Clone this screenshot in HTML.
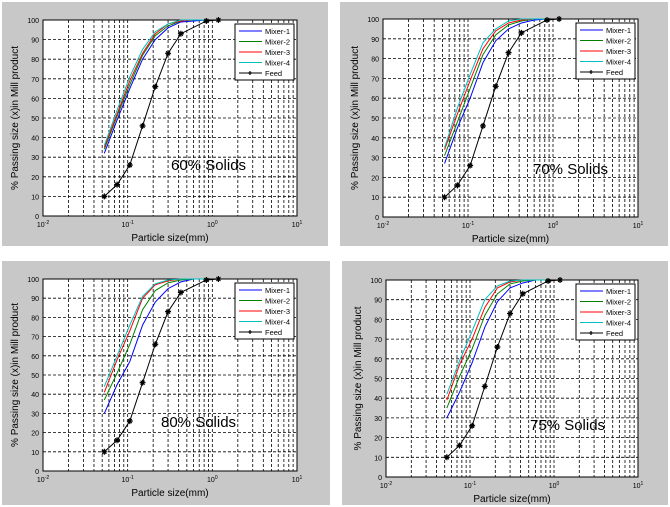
<!DOCTYPE html>
<html><head><meta charset="utf-8"><style>
html,body{margin:0;padding:0;background:#fff;width:670px;height:507px;overflow:hidden}
svg{display:block;font-family:"Liberation Sans",Arial,sans-serif}
</style></head><body>
<svg id="fig" width="670" height="507" viewBox="0 0 670 507"></svg>
<script>
const sizes = [0.053, 0.075, 0.106, 0.15, 0.212, 0.3, 0.425, 0.6, 0.85];
const feedSizes = [0.053, 0.075, 0.106, 0.15, 0.212, 0.3, 0.425, 0.85, 1.18];
const feed = [10, 16, 26, 46, 66, 83, 93, 99.5, 100];
const m60_1 = [32, 49, 65, 80, 90, 96, 99, 99.5, 100];
const m60_2 = [34, 51, 67, 82, 92, 97, 99.5, 100, 100];
const m60_3 = [35, 52, 69, 83, 93, 98, 99.5, 100, 100];
const m60_4 = [36, 54, 71, 85, 94, 98, 100, 100, 100];
const m70_1 = [27, 45, 60, 78, 89, 95, 98, 99.5, 100];
const m70_2 = [31, 48, 65, 82, 92, 97, 99, 100, 100];
const m70_3 = [34, 52, 69, 85, 94, 98, 99.5, 100, 100];
const m70_4 = [35, 55, 72, 88, 95, 99, 100, 100, 100];
const m80_1 = [30, 45, 57, 76, 88, 95, 98.5, 100, 100];
const m80_2 = [37, 51, 66, 84, 94, 98, 99.5, 100, 100];
const m80_3 = [41, 58, 73, 90, 97, 99, 100, 100, 100];
const m80_4 = [44, 60, 76, 91, 97.5, 99.5, 100, 100, 100];
const m75_1 = [30, 43, 58, 76, 89, 96, 98.5, 100, 100];
const m75_2 = [35, 51, 65, 82, 93, 98, 99.5, 100, 100];
const m75_3 = [39, 57, 70, 86, 96, 99, 100, 100, 100];
const m75_4 = [42, 59, 74, 90, 97, 99.5, 100, 100, 100];
const seriesNames = ["Mixer-1", "Mixer-2", "Mixer-3", "Mixer-4", "Feed"];
const solidsLabels = ["60% Solids", "70% Solids", "80% Solids", "75% Solids"];
const yTicks = [0, 10, 20, 30, 40, 50, 60, 70, 80, 90, 100];
const xDecades = [-2, -1, 0, 1];

const colors = ["#0000ff", "#008000", "#ff0000", "#00bfbf"];
const panelData = [[m60_1, m60_2, m60_3, m60_4], [m70_1, m70_2, m70_3, m70_4], [m80_1, m80_2, m80_3, m80_4], [m75_1, m75_2, m75_3, m75_4]];
const layout = [
  {bg:[2,2,326,244], l:43, r:297, t:20, b:216, tx:171, ty:170},
  {bg:[340,2,328,244], l:383, r:638, t:19, b:217, tx:533, ty:174},
  {bg:[2,261,328,244], l:43, r:297, t:279, b:471, tx:161, ty:427},
  {bg:[342,261,326,244], l:386, r:638, t:280, b:477, tx:530, ty:430}
];
const NS = "http://www.w3.org/2000/svg";
const svg = document.getElementById("fig");
function mk(tag, attrs, parent) {
  const e = document.createElementNS(NS, tag);
  for (const k in attrs) e.setAttribute(k, attrs[k]);
  (parent || svg).appendChild(e);
  return e;
}
layout.forEach((L, pi) => {
  const g = mk("g", {});
  
  
  const bg = mk("rect", {x:L.bg[0], y:L.bg[1], width:L.bg[2], height:L.bg[3], fill:"#c8c8c8"}, g);
  
  
  const pr = mk("rect", {x:L.l, y:L.t, width:L.r-L.l, height:L.b-L.t, fill:"#fff"}, g);
  
  
  const xs = v => L.l + (Math.log10(v) + 2) / 3 * (L.r - L.l);
  const ys = v => L.b - v / 100 * (L.b - L.t);
  // grid
  const grid = mk("g", {stroke:"#000", "stroke-width":0.8, "stroke-dasharray":"3,2"}, g);
  
  
  for (let d = -2; d < 1; d++) for (let m = 1; m <= 9; m++) {
    const v = m * Math.pow(10, d);
    if (d === -2 && m === 1) continue;
    const x = xs(v);
    mk("line", {x1:x, x2:x, y1:L.t, y2:L.b}, grid);
  }
  yTicks.forEach(t => { if (t > 0 && t < 100) mk("line", {x1:L.l, x2:L.r, y1:ys(t), y2:ys(t)}, grid); });
  const frame = mk("rect", {x:L.l, y:L.t, width:L.r-L.l, height:L.b-L.t, fill:"none", stroke:"#000", "stroke-width":1}, g);
  
  
  // tick labels
  yTicks.forEach(t => {
    const tx = mk("text", {x:L.l-4, y:ys(t)+3, "font-size":7, "text-anchor":"end", fill:"#000"}, g);
    tx.textContent = t;
    
    
  });
  xDecades.forEach(d => {
    const tx = mk("text", {x:xs(Math.pow(10, d)), y:L.b+11, "font-size":7, "text-anchor":"middle", fill:"#000"}, g);
    tx.textContent = "10";
    const sp = mk("tspan", {dy:-3, "font-size":5}, tx);
    sp.textContent = d;
    
    
  });
  const xl = mk("text", {x:(L.l+L.r)/2, y:L.b+25, "font-size":10, "text-anchor":"middle", fill:"#000"}, g);
  xl.textContent = "Particle size(mm)";
  
  
  const yx = L.l - 25, yy = (L.t + L.b) / 2;
  const yl = mk("text", {x:yx, y:yy, "font-size":10, "text-anchor":"middle", fill:"#000", transform:`rotate(-90 ${yx} ${yy})`}, g);
  yl.textContent = "% Passing size (x)in Mill product";
  
  
  // series
  panelData[pi].forEach((arr, si) => {
    const p = mk("polyline", {points: arr.map((v, i) => xs(sizes[i]) + "," + ys(v)).join(" "), fill:"none", stroke:colors[si], "stroke-width":1}, g);
    
    
  });
  const fl = mk("polyline", {points: feed.map((v, i) => xs(feedSizes[i]) + "," + ys(v)).join(" "), fill:"none", stroke:"#000", "stroke-width":1}, g);
  
  
  feed.forEach((v, i) => {
    const cx = xs(feedSizes[i]), cy = ys(v);
    const mkp = mk("path", {d:`M${cx-3},${cy}H${cx+3}M${cx},${cy-3}V${cy+3}M${cx-2},${cy-2}L${cx+2},${cy+2}M${cx-2},${cy+2}L${cx+2},${cy-2}`, stroke:"#000", "stroke-width":1.2}, g);
    
    
  });
  // legend
  const lx = L.r - 62, ly = L.t + 4, lw = 59, lh = 56;
  const lg = mk("g", {}, g);
  
  
  mk("rect", {x:lx, y:ly, width:lw, height:lh, fill:"#fff", stroke:"#000", "stroke-width":1}, lg);
  seriesNames.forEach((n, si) => {
    const y = ly + 7 + si * 10.5;
    const c = si < 4 ? colors[si] : "#000";
    mk("line", {x1:lx+4, x2:lx+27, y1:y, y2:y, stroke:c, "stroke-width":1}, lg);
    if (si === 4) mk("path", {d:`M${lx+13},${y}h4M${lx+15},${y-2}v4`, stroke:"#000", "stroke-width":1.2}, lg);
    const t = mk("text", {x:lx+30, y:y+3, "font-size":7.5, fill:"#000"}, lg);
    t.textContent = n;
    
    
  });
  const st = mk("text", {x:L.tx, y:L.ty, "font-size":15, fill:"#000"}, g);
  st.textContent = solidsLabels[pi];
  
  
});
</script>
</body></html>
